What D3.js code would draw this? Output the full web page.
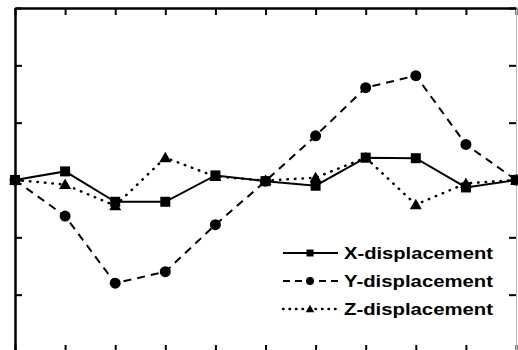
<!DOCTYPE html>
<html>
<head>
<meta charset="utf-8">
<script src="https://cdn.jsdelivr.net/npm/d3@7"></script>
<style>
  body { margin: 0; background: #fff; }
  svg { display: block; }
</style>
</head>
<body>
<svg id="chart" width="518" height="350"></svg>
<script>
// sample index along x (0..10)
const steps = [0, 1, 2, 3, 4, 5, 6, 7, 8, 9, 10];
const yTicks = [-3, -2, -1, 0, 1, 2, 3];

// displacement values
const xDisp = [0, 0.15, -0.38, -0.38, 0.08, -0.02, -0.1, 0.39, 0.38, -0.13, 0];
const yDisp = [0, -0.63, -1.8, -1.6, -0.78, -0.02, 0.77, 1.61, 1.82, 0.62, 0];
const zDisp = [0, -0.08, -0.45, 0.39, 0.06, -0.01, 0.04, 0.39, -0.43, -0.06, 0];

const seriesNames = ["X-displacement", "Y-displacement", "Z-displacement"];

const svg = d3.select("#chart");
const box = {left: 15, right: 516, top: 8, bottom: 352};

const x = d3.scaleLinear().domain([0, 10]).range([box.left, box.right]);
const y = d3.scaleLinear().domain([-3, 3]).range([box.bottom, box.top]);

// axes, ticks pointing inward, no labels
function styleAxis(g, color, w) {
  g.selectAll("path").attr("stroke", color).attr("stroke-width", w);
  g.selectAll("line").attr("stroke", color).attr("stroke-width", 2);
}
svg.append("g").attr("transform", `translate(${box.left},0)`)
  .call(d3.axisLeft(y).tickValues(yTicks).tickSize(-7).tickSizeOuter(0).tickFormat(""))
  .call(g => styleAxis(g, "#000", 2.5));
svg.append("g").attr("transform", `translate(0,${box.top})`)
  .call(d3.axisTop(x).tickValues(steps).tickSize(-7).tickSizeOuter(0).tickFormat(""))
  .call(g => styleAxis(g, "#000", 2.5));
svg.append("g").attr("transform", `translate(0,${box.bottom})`)
  .call(d3.axisBottom(x).tickValues(steps).tickSize(-7).tickSizeOuter(0).tickFormat(""))
  .call(g => styleAxis(g, "#000", 2.5));
svg.append("g").attr("transform", `translate(${box.right},0)`)
  .call(d3.axisRight(y).tickValues(yTicks).tickSize(-7).tickSizeOuter(0).tickFormat(""))
  .call(g => styleAxis(g, "#000", 1))
  .call(g => g.select("path").attr("stroke", "#bbb"));

const series = [
  {name: seriesNames[0], values: xDisp, dash: null, marker: "square"},
  {name: seriesNames[1], values: yDisp, dash: "8,6", marker: "circle"},
  {name: seriesNames[2], values: zDisp, dash: "2,6", marker: "triangle"}
];

const line = d3.line().x((d, i) => x(steps[i])).y(d => y(d));

function drawMarker(g, type, cx, cy, s) {
  if (type === "square") {
    g.append("rect").attr("x", cx - s / 2).attr("y", cy - s / 2)
      .attr("width", s).attr("height", s).attr("fill", "#000");
  } else if (type === "circle") {
    g.append("circle").attr("cx", cx).attr("cy", cy).attr("r", s / 2 + 0.5).attr("fill", "#000");
  } else {
    g.append("path")
      .attr("d", `M${cx},${cy - s * 0.6}L${cx + s * 0.6},${cy + s * 0.45}L${cx - s * 0.6},${cy + s * 0.45}Z`)
      .attr("fill", "#000");
  }
}

const plot = svg.append("g");
series.forEach(s => {
  plot.append("path").datum(s.values)
    .attr("d", line)
    .attr("fill", "none")
    .attr("stroke", "#000")
    .attr("stroke-width", s.dash === "2,6" ? 2.5 : 2)
    .attr("stroke-dasharray", s.dash === "2,6" ? "0.5,7" : s.dash)
    .attr("stroke-linecap", s.dash === "2,6" ? "round" : "butt");
  const mg = plot.append("g");
  s.values.forEach((v, i) => drawMarker(mg, s.marker, x(steps[i]), y(v), 10));
});

// legend
const legend = svg.append("g");
const rowY = [253, 281, 309];
series.forEach((s, i) => {
  const ly = rowY[i];
  legend.append("line")
    .attr("x1", 283).attr("x2", 338).attr("y1", ly).attr("y2", ly)
    .attr("stroke", "#000")
    .attr("stroke-width", s.dash === "2,6" ? 2.5 : 2)
    .attr("stroke-dasharray", s.dash === "2,6" ? "0.5,6" : (s.dash ? "7,5" : null))
    .attr("stroke-linecap", s.dash === "2,6" ? "round" : "butt");
  drawMarker(legend, s.marker, 310, ly, 7);
  legend.append("text")
    .attr("x", 344).attr("y", ly + 6)
    .attr("font-family", "'Liberation Sans', Arial, sans-serif")
    .attr("font-weight", "bold")
    .attr("font-size", 17)
    .attr("textLength", 149)
    .attr("lengthAdjust", "spacingAndGlyphs")
    .text(s.name);
});
</script>
</body>
</html>
